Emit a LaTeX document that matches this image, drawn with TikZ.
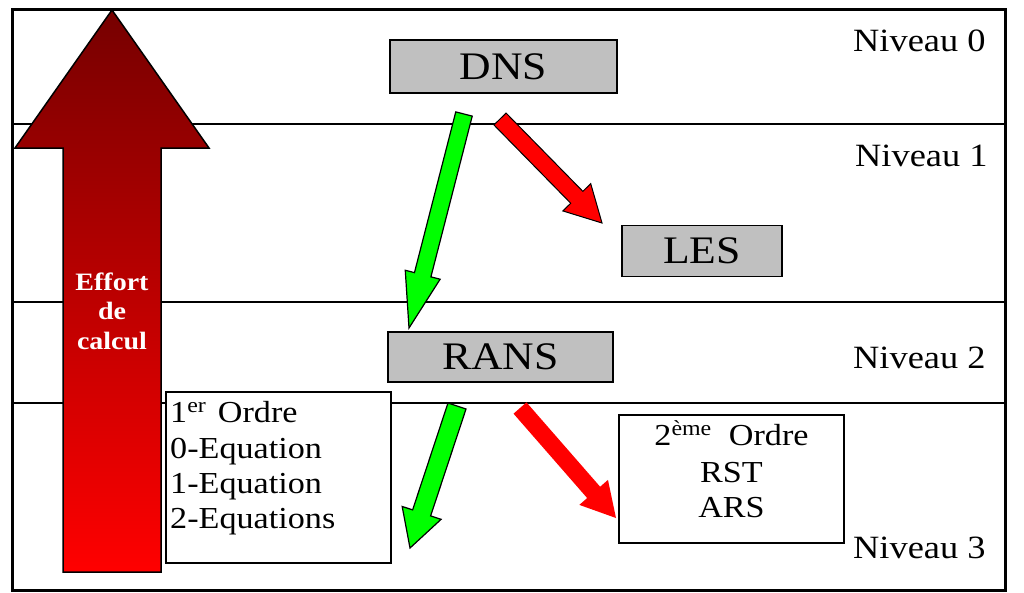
\documentclass[tikz,border=0pt]{standalone}
\usepackage{fontspec}
\setmainfont{Liberation Serif}[FakeStretch=1.12]
\usetikzlibrary{calc}

\definecolor{boxgray}{RGB}{192,192,192}
\definecolor{darkred}{RGB}{118,0,0}
\definecolor{brightred}{RGB}{255,0,0}
\definecolor{brightgreen}{RGB}{0,255,0}

% Thick block arrow: tail, tip, shaft half-width, head half-width, head length, style
\newcommand{\blockarrow}[6]{%
  \coordinate (ba-h) at ($(#2)!#5!(#1)$);
  \path[#6] ($(#1)!#3!90:(#2)$) -- ($(ba-h)!#3!90:(#2)$) -- ($(ba-h)!#4!90:(#2)$)
    -- (#2) -- ($(ba-h)!#4!-90:(#2)$) -- ($(ba-h)!#3!-90:(#2)$)
    -- ($(#1)!#3!-90:(#2)$) -- cycle;
}

\tikzset{
  levelline/.style={line width=1.4pt},
  frameline/.style={line width=3pt},
  graybox/.style={draw, line width=1.8pt, fill=boxgray, inner sep=0pt,
    font=\fontsize{39}{44}\selectfont},
  whitebox/.style={draw, line width=1.6pt, fill=white, inner sep=0pt},
  lvltext/.style={anchor=base west, inner sep=0pt, font=\fontsize{32.5}{36}\selectfont},
  listtext/.style={inner sep=0pt, font=\fontsize{30.5}{35}\selectfont},
  greenarrow/.style={fill=brightgreen, draw=black, line width=1.2pt, line join=miter},
  redarrow/.style={fill=brightred, draw=black, line width=1pt, line join=miter},
  redarrowplain/.style={fill=brightred},
}

\begin{document}
\begin{tikzpicture}[x=1pt, y=-1pt]
  \useasboundingbox (0,0) rectangle (1024,592);
  \fill[white] (0,0) rectangle (1024,592);

  % level separators
  \draw[levelline] (12,124) -- (1005,124);
  \draw[levelline] (12,302) -- (1005,302);
  \draw[levelline] (12,403) -- (1005,403);

  % outer frame
  \draw[frameline] (12,9) rectangle (1005,590);

  % computational effort arrow
  \shade[top color=darkred, bottom color=brightred]
    (63,572) -- (63,148) -- (15,148) -- (112,10) -- (209,148) -- (161,148) -- (161,572) -- cycle;
  \draw[line width=1.5pt, line join=miter]
    (63,572) -- (63,148) -- (15,148) -- (112,10) -- (209,148) -- (161,148) -- (161,572) -- cycle;
  \node[text=white, align=center, inner sep=0pt,
        font=\fontsize{25}{29.5}\selectfont\bfseries] (effort) at (112,311)
        {Effort\\de\\calcul};

  % model boxes
  \node[graybox, minimum width=227pt, minimum height=53pt] (dns)  at (503.5,66.5) {DNS};
  \node[graybox, minimum width=160pt, minimum height=51pt] (les)  at (702,251)    {LES};
  \node[graybox, minimum width=225pt, minimum height=50pt] (rans) at (500.5,357)  {RANS};

  \node[whitebox, minimum width=225pt, minimum height=171pt] (first)  at (278.5,477.5) {};
  \node[whitebox, minimum width=225pt, minimum height=128pt] (second) at (731.5,479)   {};

  % first-order closures
  \node[listtext, anchor=base west] (f0) at (170,422) {1\textsuperscript{er}\ \kern3pt Ordre};
  \node[listtext, anchor=base west] (f1) at (170,458) {0-Equation};
  \node[listtext, anchor=base west] (f2) at (170,493) {1-Equation};
  \node[listtext, anchor=base west] (f3) at (170,528) {2-Equations};

  % second-order closures
  \node[listtext, anchor=base] (s0) at (731.5,445) {2\textsuperscript{ème}\ \ Ordre};
  \node[listtext, anchor=base] (s1) at (731.5,482) {RST};
  \node[listtext, anchor=base] (s2) at (731.5,517) {ARS};

  % level labels
  \node[lvltext] (n0) at (853,51)  {Niveau 0};
  \node[lvltext] (n1) at (855,166) {Niveau 1};
  \node[lvltext] (n2) at (853,368) {Niveau 2};
  \node[lvltext] (n3) at (853,558) {Niveau 3};

  % arrow ends
  \coordinate (dnsA)   at (464,114);
  \coordinate (ransIn) at (409,328);
  \coordinate (dnsB)   at (500,119);
  \coordinate (lesIn)  at (602,223);
  \coordinate (ransA)  at (457,406);
  \coordinate (firstIn) at (410,548);
  \coordinate (ransB)  at (520,408);
  \coordinate (secondIn) at (616,518);

  % refinement arrows
  \blockarrow{dnsA}{ransIn}{8.5pt}{18pt}{55pt}{greenarrow}
  \blockarrow{dnsB}{lesIn}{8.5pt}{19.5pt}{36pt}{redarrow}
  \blockarrow{ransA}{firstIn}{9.5pt}{20.5pt}{37pt}{greenarrow}
  \blockarrow{ransB}{secondIn}{8.6pt}{19pt}{34pt}{redarrowplain}
\end{tikzpicture}
\end{document}
